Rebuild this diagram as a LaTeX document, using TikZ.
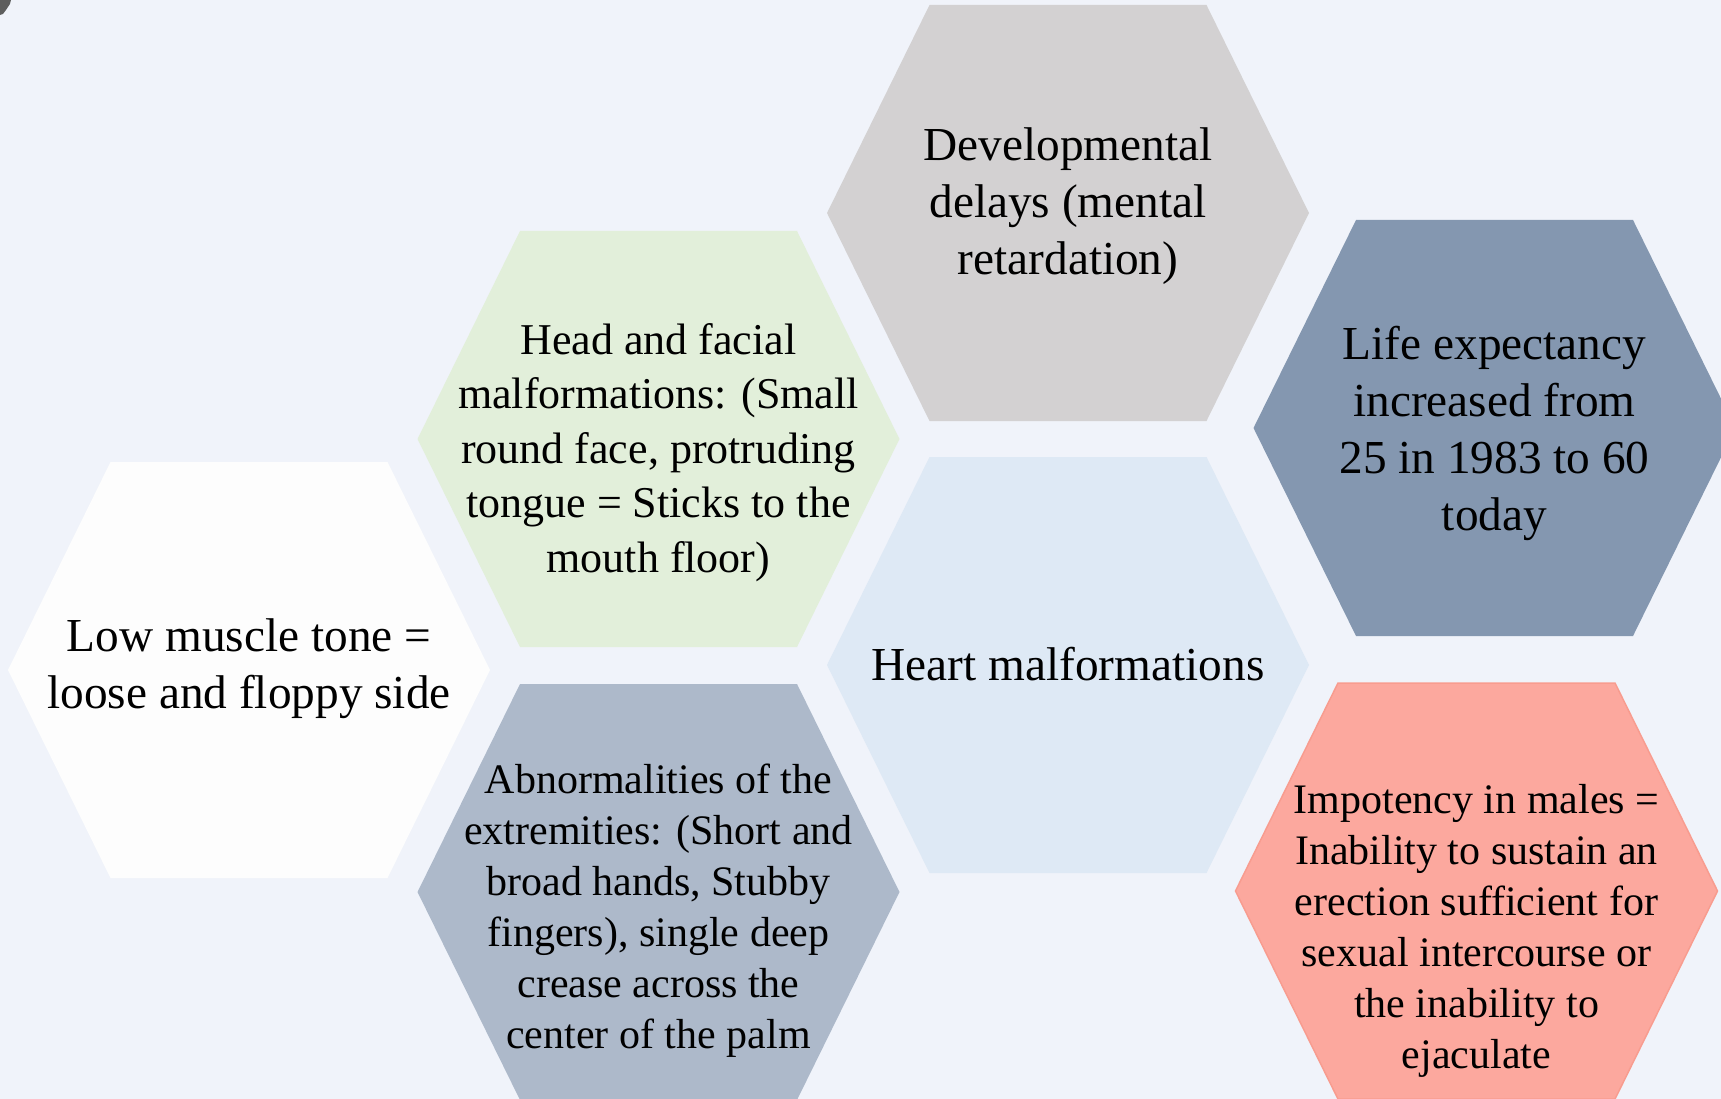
\documentclass[tikz,border=0pt]{standalone}
\usepackage{fontspec}
\setmainfont{Liberation Serif}
\definecolor{bg}{HTML}{F0F3FA}
\definecolor{hexgray}{HTML}{D3D1D2}
\definecolor{hexgreen}{HTML}{E2EFDA}
\definecolor{hexwhite}{HTML}{FDFDFD}
\definecolor{hexslate}{HTML}{ADB9CA}
\definecolor{hexsky}{HTML}{DEE9F5}
\definecolor{hexsteel}{HTML}{8497B0}
\definecolor{hexsalmon}{HTML}{FCA89E}
\definecolor{hexsalmonedge}{HTML}{F89C8F}
\definecolor{blobgray}{HTML}{5E5E5E}
% [extra options]{cx}{cy}{fill colour}
\newcommand\hexcell[4][]{%
  \path[fill=#4,#1] (#2-241,#3) -- (#2-138.5,#3-208) -- (#2+138.5,#3-208)
    -- (#2+241,#3) -- (#2+138.5,#3+208) -- (#2-138.5,#3+208) -- cycle;}
\begin{document}
\begin{tikzpicture}[x=1pt,y=-1pt,
  txt/.style={align=center, anchor=base, inner sep=0pt, text=black},
  bigtxt/.style={txt, font=\fontsize{47.3}{57}\selectfont},
  midtxt/.style={txt, font=\fontsize{44}{54.5}\selectfont},
  smalltxt/.style={txt, font=\fontsize{42}{51}\selectfont}]
\useasboundingbox (0,0) rectangle (1721,1099);
\fill[bg] (0,0) rectangle (1721,1099);
\clip (0,0) rectangle (1721,1099);
\fill[blobgray] (0,0) -- (11,0) -- (10,4) -- (6,10) -- (3,14) -- (0,15) -- cycle;
% hexagons
\hexcell{1068}{213}{hexgray}
\hexcell{658.5}{439}{hexgreen}
\hexcell{249}{670}{hexwhite}
\hexcell{658.5}{892}{hexslate}
\hexcell{1068}{665}{hexsky}
\hexcell{1494.5}{428}{hexsteel}
\hexcell[draw=hexsalmonedge,line width=1.5pt]{1476.5}{891}{hexsalmon}
% texts (anchored at the baseline of the last line)
\node[bigtxt] (dev) at (1068,275) {Developmental\\delays (mental\\retardation)};
\node[midtxt] (head) at (658.5,572) {Head and facial\\malformations: (Small\\round face, protruding\\tongue = Sticks to the\\mouth floor)};
\node[bigtxt] (low) at (249,708) {Low muscle tone =\\loose and floppy side};
\node[smalltxt] (abn) at (658.5,1048) {Abnormalities of the\\extremities: (Short and\\broad hands, Stubby\\fingers), single deep\\crease across the\\center of the palm};
\node[bigtxt] (heart) at (1068,680) {Heart malformations};
\node[bigtxt] (life) at (1494.5,530) {Life expectancy\\increased from\\25 in 1983 to 60\\today};
\node[smalltxt] (imp) at (1476.5,1068) {Impotency in males =\\Inability to sustain an\\erection sufficient for\\sexual intercourse or\\the inability to\\ejaculate};
\end{tikzpicture}
\end{document}
